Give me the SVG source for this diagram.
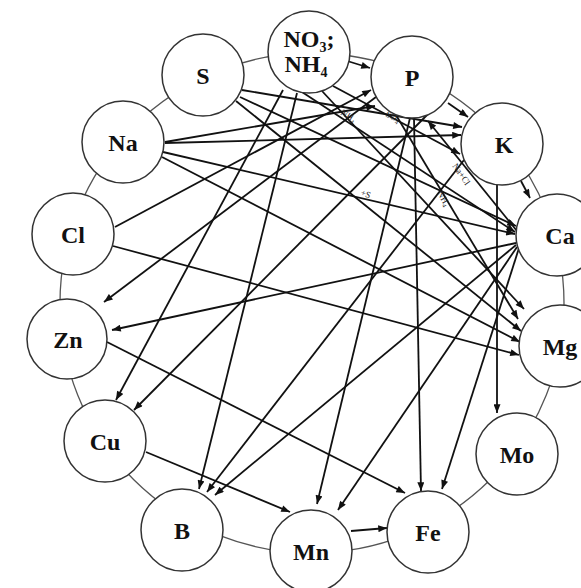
<svg xmlns="http://www.w3.org/2000/svg" width="581" height="588" viewBox="0 0 581 588">
  <defs>
    <marker id="arr" viewBox="0 0 10 8" refX="10" refY="4" markerWidth="10" markerHeight="7" markerUnits="userSpaceOnUse" orient="auto">
      <path d="M0,0 L10,4 L0,8 z" fill="#111"/>
    </marker>
    <style>
      .ring { fill: none; stroke: #555; stroke-width: 1.3; }
      .node circle { fill: #fff; stroke: #333; stroke-width: 1.5; }
      .node text { font-family: "Liberation Serif", "DejaVu Serif", serif; font-weight: bold; font-size: 24px; fill: #111; text-anchor: middle; }
      .edges line { stroke: #111; stroke-width: 1.8; marker-end: url(#arr); }
      .lab { font-family: "Liberation Serif", serif; font-size: 9px; fill: #222; }
    </style>
  </defs>
  <rect width="581" height="588" fill="#fff"/>

  <!-- outer ring linking neighbouring elements -->
  <ellipse class="ring" cx="312" cy="303" rx="252" ry="250"/>

  <!-- interaction arrows -->
  <g id="edges" class="edges">
    <!-- neighbours on the ring -->
    <line x1="344" y1="60" x2="370" y2="68"/>
    <line x1="448" y1="103" x2="468" y2="117"/>
    <line x1="521" y1="181" x2="530" y2="198"/>
    <line x1="351" y1="531" x2="387" y2="528"/>
    <!-- NO3;NH4 -->
    <line x1="283" y1="90" x2="116" y2="400"/>
    <line x1="297" y1="93" x2="199" y2="489"/>
    <line x1="302" y1="92" x2="515" y2="232"/>
    <line x1="333" y1="86" x2="460" y2="154"/>
    <line x1="322" y1="91" x2="524" y2="309"/>
    <!-- P -->
    <line x1="428" y1="114" x2="134" y2="410"/>
    <line x1="376" y1="97" x2="104" y2="302"/>
    <line x1="410" y1="118" x2="317" y2="504"/>
    <line x1="414" y1="118" x2="421" y2="491"/>
    <line x1="396" y1="115" x2="518" y2="319"/>
    <!-- K -->
    <line x1="497" y1="185" x2="497" y2="413"/>
    <line x1="464" y1="160" x2="207" y2="492"/>
    <!-- Ca -->
    <line x1="516" y1="243" x2="112" y2="330"/>
    <line x1="516" y1="245" x2="215" y2="495"/>
    <line x1="517" y1="247" x2="338" y2="510"/>
    <line x1="519" y1="248" x2="442" y2="489"/>
    <line x1="517" y1="231" x2="428" y2="121"/>
    <!-- Cu, Zn -->
    <line x1="146" y1="452" x2="290" y2="512"/>
    <line x1="107" y1="342" x2="405" y2="493"/>
    <!-- Cl -->
    <line x1="115" y1="227" x2="371" y2="90"/>
    <line x1="113" y1="246" x2="519" y2="355"/>
    <!-- Na -->
    <line x1="165" y1="142" x2="375" y2="106"/>
    <line x1="165" y1="143" x2="461" y2="135"/>
    <line x1="163" y1="152" x2="515" y2="234"/>
    <line x1="162" y1="157" x2="520" y2="342"/>
    <!-- S -->
    <line x1="242" y1="90" x2="462" y2="127"/>
    <line x1="240" y1="97" x2="516" y2="226"/>
    <line x1="236" y1="101" x2="521" y2="331"/>
  </g>

  <!-- edge annotations -->
  <g id="edge-labels" class="lab">
    <text transform="translate(340,114) rotate(33)">NH<tspan font-size="6" dy="2">4</tspan></text>
    <text transform="translate(385,116) rotate(28)">SO<tspan font-size="6" dy="2">4</tspan></text>
    <text transform="translate(452,166) rotate(55)">Na+Cl</text>
    <text transform="translate(360,195) rotate(20)">+S</text>
    <text transform="translate(437,193) rotate(60)">NH<tspan font-size="6" dy="2">4</tspan></text>
  </g>

  <!-- element nodes -->
  <g id="node-S" class="node"><circle cx="203" cy="75" r="41"/><text x="203" y="84">S</text></g>
  <g id="node-N" class="node"><circle cx="309" cy="52" r="41"/>
    <text x="309" y="47">NO<tspan font-size="14" dy="5">3</tspan><tspan dy="-5">;</tspan></text>
    <text x="306" y="72">NH<tspan font-size="14" dy="5">4</tspan></text>
  </g>
  <g id="node-P" class="node"><circle cx="412" cy="77" r="41"/><text x="412" y="86">P</text></g>
  <g id="node-K" class="node"><circle cx="502" cy="144" r="41"/><text x="504" y="153">K</text></g>
  <g id="node-Ca" class="node"><circle cx="557" cy="235" r="41"/><text x="560" y="244">Ca</text></g>
  <g id="node-Mg" class="node"><circle cx="560" cy="346" r="41"/><text x="560" y="355">Mg</text></g>
  <g id="node-Mo" class="node"><circle cx="517" cy="454" r="41"/><text x="517" y="463">Mo</text></g>
  <g id="node-Fe" class="node"><circle cx="428" cy="532" r="41"/><text x="428" y="541">Fe</text></g>
  <g id="node-Mn" class="node"><circle cx="311" cy="551" r="41"/><text x="311" y="560">Mn</text></g>
  <g id="node-B" class="node"><circle cx="182" cy="530" r="41"/><text x="182" y="539">B</text></g>
  <g id="node-Cu" class="node"><circle cx="105" cy="441" r="41"/><text x="105" y="450">Cu</text></g>
  <g id="node-Zn" class="node"><circle cx="67" cy="339" r="40"/><text x="68" y="348">Zn</text></g>
  <g id="node-Cl" class="node"><circle cx="73" cy="234" r="41"/><text x="73" y="243">Cl</text></g>
  <g id="node-Na" class="node"><circle cx="123" cy="142" r="41"/><text x="123" y="151">Na</text></g>
</svg>
